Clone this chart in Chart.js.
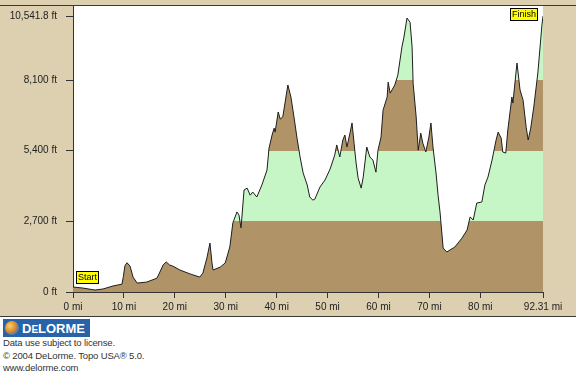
<!DOCTYPE html>
<html>
<head>
<meta charset="utf-8">
<script src="https://cdn.jsdelivr.net/npm/chart.js@4"></script>
<style>
  body { margin: 0; background: #fff; font-family: "Liberation Sans", Arial, sans-serif; }
  #panel { position: relative; width: 576px; height: 316px; background: #DCD0B0; border-bottom: 1px solid #3a3a3a; }
  #topLine { position: absolute; left: 0; top: 5px; width: 576px; height: 1px; background: #3a3a3a; }
  #profile { position: absolute; left: 0; top: 6px; }
  #logo { position: absolute; left: 3px; top: 319px; width: 87px; height: 18px; background: #2763a6; overflow: hidden; }
  #globe { position: absolute; left: 2px; top: 2px; width: 14px; height: 14px; border-radius: 50%;
    background: radial-gradient(circle at 35% 35%, #f6d36a 0%, #e08a2c 45%, #3a7bc0 75%, #1d4f8a 100%); }
  #logoText { position: absolute; left: 19px; top: 1px; color: #fff; font-weight: bold; font-size: 13px; line-height: 17px; white-space: nowrap; }
  #logoText span { font-size: 10px; }
  .note { position: absolute; left: 3px; font-size: 9.5px; letter-spacing: -0.15px; color: #333; }
</style>
</head>
<body>
<div id="panel">
  <div id="topLine"></div>
  <canvas id="profile" width="576" height="310"></canvas>
</div>
<div id="logo"><div id="globe"></div><div id="logoText">D<span>E</span>LORME</div></div>
<div class="note" style="top:337px">Data use subject to license.</div>
<div class="note" style="top:350px">© 2004 DeLorme. Topo USA® 5.0.</div>
<div class="note" style="top:362px">www.delorme.com</div>
<script>
const miles = [0, 1.96, 4.32, 5.89, 7.86, 9.62, 9.9, 10.2, 10.6, 11.2, 11.8, 12.6, 14.5, 16.5, 17.7, 18.3, 19.0, 19.6,
  21.0, 23.0, 24.9, 25.5, 26.3, 26.9, 27.3, 27.5, 28.9, 29.9, 30.8, 31.4, 32.2, 32.6, 33.0, 33.6, 34.2, 34.8, 35.3,
  36.1, 37.1, 38.1, 38.5, 39.1, 39.5, 39.7, 40.3, 40.7, 41.2, 42.2, 42.8, 43.4, 44.0, 44.6, 45.2, 46.0, 46.5, 47.1,
  47.5, 48.5, 49.5, 50.5, 51.4, 51.8, 52.4, 53.0, 53.4, 53.8, 54.4, 54.8, 55.2, 55.6, 56.0, 56.6, 57.0, 57.7, 58.3,
  58.9, 59.5, 59.9, 60.5, 60.9, 61.7, 61.9, 62.3, 63.2, 63.8, 64.6, 65.0, 65.6, 66.2, 66.6, 66.8, 67.4, 67.8, 68.3,
  68.7, 69.3, 69.9, 70.3, 70.7, 71.3, 71.7, 72.1, 72.7, 73.4, 75.0, 76.4, 77.4, 78.0, 78.6, 79.3, 80.3, 80.9, 81.5,
  82.3, 83.1, 83.5, 84.1, 84.4, 85.0, 85.4, 86.2, 86.4, 87.2, 87.8, 88.4, 89.0, 89.4, 89.9, 90.5, 91.3, 91.9, 92.1, 92.31];
const elevFt = [190, 150, 75, 115, 230, 300, 600, 1000, 1120, 990, 570, 340, 380, 530, 1030, 1150, 1030, 990,
  840, 690, 570, 720, 1300, 1870, 1110, 840, 950, 1110, 1720, 2640, 3060, 2940, 2450, 3900, 3970, 3700, 3820,
  3630, 4090, 4660, 5500, 6000, 6260, 6110, 6880, 6610, 6690, 7910, 7450, 6690, 5880, 5160, 4550, 4090, 3630, 3510,
  3550, 4010, 4280, 4700, 5230, 5620, 5160, 5810, 6000, 5540, 6070, 6460, 5690, 4930, 4350, 3970, 4390, 5540, 5160,
  5040, 4580, 5420, 5920, 6950, 7450, 8020, 7600, 7910, 8290, 9360, 9740, 10470, 10310, 9360, 7980, 6690, 5420, 6070,
  5690, 5350, 5920, 6460, 5540, 4550, 3700, 3020, 1680, 1530, 1720, 2060, 2370, 2870, 2750, 3400, 3440, 4090, 4390,
  5040, 5810, 6110, 5880, 5350, 5310, 6190, 7450, 7220, 8750, 7720, 7330, 6300, 5810, 6260, 7070, 8370, 9740, 10200, 10541.8];

const xTickValues = [0, 10, 20, 30, 40, 50, 60, 70, 80, 92.31];
const yTickValues = [0, 2700, 5400, 8100, 10541.8];
const yTickLabels = ['0 ft', '2,700 ft', '5,400 ft', '8,100 ft', '10,541.8 ft'];
const bandEdges = [0, 2700, 5400, 8100, 10930];
const bandColors = ['#B09468', '#C6F5C6', '#B09468', '#C6F5C6'];
const startLabel = 'Start';
const finishLabel = 'Finish';

const brown = bandColors[0];
const tagFont = '9px "Liberation Sans", Arial, sans-serif';

// relleno por bandas de altura usando la escala y
function bandFill(context) {
  const chart = context.chart;
  const area = chart.chartArea;
  if (!area) return brown;
  const y = chart.scales.y;
  const yBottom = y.getPixelForValue(bandEdges[0]);
  const yTop = y.getPixelForValue(bandEdges[bandEdges.length - 1]);
  const grad = chart.ctx.createLinearGradient(0, yBottom, 0, yTop);
  for (let i = 0; i < bandColors.length; i++) {
    const f0 = (yBottom - y.getPixelForValue(bandEdges[i])) / (yBottom - yTop);
    const f1 = (yBottom - y.getPixelForValue(bandEdges[i + 1])) / (yBottom - yTop);
    grad.addColorStop(Math.max(0, Math.min(1, f0)), bandColors[i]);
    grad.addColorStop(Math.max(0, Math.min(1, f1)), bandColors[i]);
  }
  return grad;
}

const plotBackground = {
  id: 'plotBackground',
  beforeDraw(chart) {
    const { ctx, chartArea } = chart;
    ctx.save();
    ctx.fillStyle = '#ffffff';
    ctx.fillRect(chartArea.left, chartArea.top, chartArea.right - chartArea.left, chartArea.bottom - chartArea.top);
    ctx.restore();
  }
};

function tagWidth(ctx, text) {
  ctx.font = tagFont;
  return Math.round(ctx.measureText(text).width) + 4;
}

function drawTag(ctx, text, x, y) {
  const w = tagWidth(ctx, text);
  ctx.fillStyle = '#ffff00';
  ctx.fillRect(x, y, w, 13);
  ctx.strokeStyle = '#000';
  ctx.lineWidth = 1;
  ctx.strokeRect(x + 0.5, y + 0.5, w - 1, 12);
  ctx.fillStyle = '#000';
  ctx.textBaseline = 'middle';
  ctx.fillText(text, x + 2, y + 7);
}

const endTags = {
  id: 'endTags',
  afterDatasetsDraw(chart) {
    const pts = chart.getDatasetMeta(0).data;
    const first = pts[0];
    const last = pts[pts.length - 1];
    const ctx = chart.ctx;
    ctx.save();
    drawTag(ctx, startLabel, Math.round(first.x) + 3, Math.round(first.y) - 16);
    const w = tagWidth(ctx, finishLabel);
    drawTag(ctx, finishLabel, Math.round(last.x) - w - 5, chart.chartArea.top + 2);
    ctx.restore();
  }
};

Chart.defaults.font.family = '"Liberation Sans", Arial, sans-serif';
Chart.defaults.font.size = 10;
Chart.defaults.color = '#222';

const ctx = document.getElementById('profile').getContext('2d');
new Chart(ctx, {
  type: 'line',
  data: {
    datasets: [{
      data: miles.map((m, i) => ({ x: m, y: elevFt[i] })),
      borderColor: '#1e1e1e',
      borderWidth: 1,
      backgroundColor: bandFill,
      fill: 'origin',
      tension: 0,
      pointRadius: 0
    }]
  },
  options: {
    responsive: false,
    animation: false,
    layout: { padding: { top: 0, right: 33, left: 0, bottom: 0 } },
    plugins: { legend: { display: false }, tooltip: { enabled: false } },
    scales: {
      x: {
        type: 'linear',
        min: 0,
        max: 92.31,
        afterBuildTicks: (scale) => { scale.ticks = xTickValues.map(v => ({ value: v })); },
        afterFit: (scale) => { scale.height = 24; scale.paddingLeft = 0; scale.paddingRight = 0; },
        ticks: { autoSkip: false, maxRotation: 0, padding: 3, callback: (v) => v + ' mi' },
        grid: { drawOnChartArea: false, drawTicks: true, tickLength: 6, color: '#333' },
        border: { display: true, color: '#333' }
      },
      y: {
        min: 0,
        max: bandEdges[bandEdges.length - 1],
        afterBuildTicks: (scale) => { scale.ticks = yTickValues.map(v => ({ value: v })); },
        afterFit: (scale) => { scale.width = 73; scale.paddingTop = 0; scale.paddingBottom = 0; },
        ticks: { autoSkip: false, padding: 9, callback: (v) => yTickLabels[yTickValues.indexOf(v)] },
        grid: { drawOnChartArea: false, drawTicks: true, tickLength: 7, color: '#333' },
        border: { display: true, color: '#333' }
      }
    }
  },
  plugins: [plotBackground, endTags]
});
</script>
</body>
</html>
